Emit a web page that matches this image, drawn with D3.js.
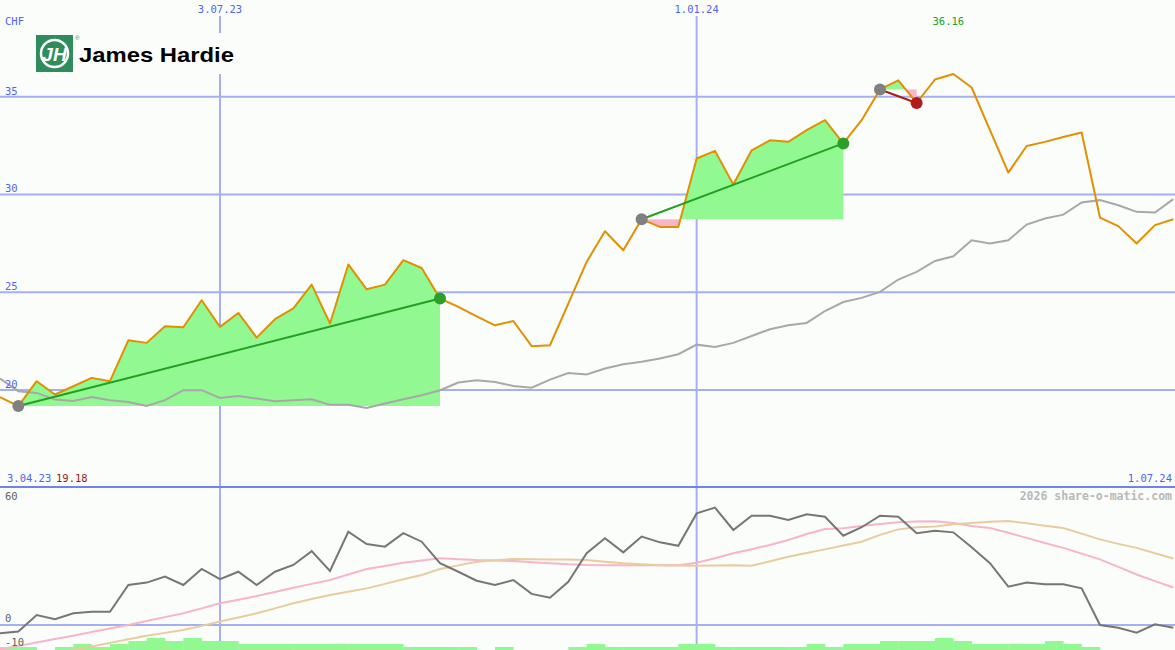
<!DOCTYPE html>
<html><head><meta charset="utf-8">
<script src="https://cdn.jsdelivr.net/npm/d3@7"></script>
<style>
html,body{margin:0;padding:0;background:#fbfdfb;}
svg{display:block;}
</style></head>
<body>
<script>
// ---------- DATA ----------
const dates = [
"2023-04-10","2023-04-17","2023-04-24","2023-05-01","2023-05-08","2023-05-15","2023-05-22","2023-05-29",
"2023-06-05","2023-06-12","2023-06-19","2023-06-26","2023-07-03","2023-07-10","2023-07-17","2023-07-24",
"2023-07-31","2023-08-07","2023-08-14","2023-08-21","2023-08-28","2023-09-04","2023-09-11","2023-09-18",
"2023-09-25","2023-10-02","2023-10-09","2023-10-16","2023-10-23","2023-10-30","2023-11-06","2023-11-13",
"2023-11-20","2023-11-27","2023-12-04","2023-12-11","2023-12-18","2023-12-25","2024-01-01","2024-01-08",
"2024-01-15","2024-01-22","2024-01-29","2024-02-05","2024-02-12","2024-02-19","2024-02-26","2024-03-04",
"2024-03-11","2024-03-18","2024-03-25","2024-04-01","2024-04-08","2024-04-15","2024-04-22","2024-04-29",
"2024-05-06","2024-05-13","2024-05-20","2024-05-27","2024-06-03","2024-06-10","2024-06-17","2024-06-24",
"2024-07-01"];

const price = [
19.64,19.18,20.45,19.77,20.19,20.62,20.45,22.54,22.41,23.26,23.21,24.59,23.23,23.94,22.68,23.62,
24.17,25.39,23.40,26.42,25.15,25.39,26.64,26.24,24.68,24.25,23.77,23.31,23.53,22.24,22.29,24.42,
26.55,28.12,27.15,28.73,28.34,28.34,31.84,32.23,30.51,32.26,32.77,32.69,33.29,33.80,32.61,33.80,
35.37,35.84,34.68,35.88,36.16,35.47,33.29,31.12,32.48,32.69,32.94,33.17,28.82,28.38,27.49,28.43,
28.73];

const priceAvg = [
20.59,19.94,19.85,19.51,19.44,19.64,19.48,19.39,19.18,19.48,19.99,19.99,19.59,19.69,19.56,19.42,
19.48,19.53,19.24,19.24,19.08,19.31,19.53,19.73,19.99,20.38,20.50,20.41,20.21,20.12,20.53,20.87,
20.79,21.10,21.32,21.44,21.61,21.83,22.32,22.20,22.41,22.76,23.11,23.31,23.43,24.04,24.50,24.71,
25.02,25.65,26.04,26.60,26.84,27.66,27.49,27.66,28.46,28.77,28.97,29.59,29.71,29.45,29.11,29.08,
29.76];

const momentum = [
-3.9,-3.1,4.7,2.7,5.5,6.2,6.2,18.8,19.9,22.7,18.8,26.3,21.5,25.0,18.8,25.0,
28.2,34.7,25.4,43.8,38.0,36.8,43.1,39.1,29.0,25.0,20.8,18.8,21.1,14.6,12.8,20.3,
33.7,40.7,34.1,41.5,38.8,37.2,52.4,55.1,44.6,51.3,51.3,49.3,52.0,50.8,41.9,45.9,
51.3,50.8,43.1,44.3,43.5,36.5,29.0,18.0,19.9,19.1,19.1,17.2,0.0,-1.3,-3.6,0.3,
-1.3];

const momentumFast = [
-11.4,-9.8,-8.2,-6.6,-5.0,-3.3,-1.6,0.0,1.9,3.7,5.5,7.8,10.2,11.9,13.6,15.5,
17.5,19.3,21.1,23.7,26.3,27.7,29.2,30.3,31.3,30.9,30.5,30.3,30.0,29.5,29.0,28.5,
28.2,28.1,28.0,28.0,28.0,28.0,29.2,31.3,33.7,35.6,37.6,39.9,42.7,45.1,45.4,46.5,
47.4,48.2,48.6,48.7,47.9,46.5,45.5,43.3,40.9,38.5,36.2,33.5,30.8,27.3,23.7,20.6,
17.6];

const momentumSlow = [
-18.8,-16.9,-15.3,-13.6,-11.7,-10.1,-8.4,-6.7,-5.0,-3.7,-2.3,-0.4,1.6,3.5,5.5,7.8,
10.2,12.2,14.1,15.6,17.2,19.3,21.5,23.5,26.3,28.0,29.7,30.4,31.0,30.9,30.8,30.7,
30.5,29.7,29.0,28.5,28.0,27.9,27.8,27.9,28.0,27.8,29.9,32.0,33.8,35.5,37.3,39.1,
42.3,44.9,45.9,46.3,47.3,47.9,48.5,48.8,47.8,46.6,45.5,42.9,40.2,38.1,36.2,33.7,
31.2];

const volume = [
1,1,0,1,2,1,2,3,4,3,4,3,3,2,2,2,
2,2,2,2,2,2,1,1,1,1,0,1,0,0,0,1,
2,1,1,1,1,2,2,1,1,1,1,1,2,1,2,2,
3,3,3,4,3,2,2,2,2,3,2,1,0,0,0,0,
0];

const trendStart = [1, 35, 48];
const trendEnd   = [24, 46, 50];

const priceTicks = [20, 25, 30, 35];
const momTicks = [60, 0, -10];
const dateTicks = ["2023-07-03", "2024-01-01"];
const dateTickLabels = ["3.07.23", "1.01.24"];
const rangeStartLabel = "3.04.23";
const rangeEndLabel = "1.07.24";
const minLabel = "19.18";
const maxLabel = "36.16";
const currency = "CHF";
const companyName = "James Hardie";
const credit = "2026 share-o-matic.com";

// ---------- SETUP ----------
const W = 1175, H = 650;
const parse = d3.timeParse("%Y-%m-%d");
const D = dates.map(parse);
const x = d3.scaleTime().domain([D[0], D[D.length - 1]]).range([0, 1173.3]);
const y = d3.scaleLinear().domain([20, 35]).range([390, 96.7]);
const y2 = d3.scaleLinear().domain([-10, 60]).range([646.3, 497.2]);
const yv = d3.scaleLinear().domain([0, 4]).range([0, 12]);

const BLUE = "#5064f0", GRID = "#a4b0f0", SEP = "#7082ee";
const mono = "'DejaVu Sans Mono', monospace";

const svg = d3.select("body").append("svg").attr("width", W).attr("height", H);
const defs = svg.append("defs");
defs.append("clipPath").attr("id", "mainClip").append("rect").attr("x", 0).attr("y", 0).attr("width", W).attr("height", 486);
defs.append("clipPath").attr("id", "lowClip").append("rect").attr("x", 0).attr("y", 489).attr("width", W).attr("height", H - 489);

svg.append("rect").attr("width", W).attr("height", H).attr("fill", "#fbfdfb");

// grid
const gridG = svg.append("g");
gridG.selectAll("line.h").data(priceTicks).join("line")
  .attr("x1", 0).attr("x2", W).attr("y1", d => y(d)).attr("y2", d => y(d))
  .attr("stroke", GRID).attr("stroke-width", 2);
gridG.append("line").attr("x1", 0).attr("x2", W).attr("y1", y2(0)).attr("y2", y2(0))
  .attr("stroke", GRID).attr("stroke-width", 2);
gridG.selectAll("line.v").data(dateTicks).join("line")
  .attr("x1", d => x(parse(d))).attr("x2", d => x(parse(d)))
  .attr("y1", 16).attr("y2", H)
  .attr("stroke", GRID).attr("stroke-width", 2);
gridG.append("line").attr("x1", 0).attr("x2", W).attr("y1", 487).attr("y2", 487)
  .attr("stroke", SEP).attr("stroke-width", 2);

// ---------- MAIN PANEL ----------
const main = svg.append("g").attr("clip-path", "url(#mainClip)");

trendStart.forEach((s, k) => {
  const e = trendEnd[k];
  const base = price[s];
  const seg = d3.range(s, e + 1);
  const area = d3.area().x(i => x(D[i])).y0(y(base)).y1(i => y(price[i]));
  const gid = "gc" + k, pid = "pc" + k;
  defs.append("clipPath").attr("id", gid).append("rect")
    .attr("x", 0).attr("y", 0).attr("width", W).attr("height", y(base));
  defs.append("clipPath").attr("id", pid).append("rect")
    .attr("x", 0).attr("y", y(base)).attr("width", W).attr("height", 486 - y(base));
  main.append("path").attr("d", area(seg)).attr("fill", "#92f892").attr("clip-path", `url(#${gid})`);
  main.append("path").attr("d", area(seg)).attr("fill", "#f8b4c8").attr("clip-path", `url(#${pid})`);
});

const line = d3.line().x((d, i) => x(D[i])).y(d => y(d));
main.append("path").attr("d", line(priceAvg)).attr("fill", "none")
  .attr("stroke", "#a8a8a8").attr("stroke-width", 2);
main.append("path").attr("d", line(price)).attr("fill", "none")
  .attr("stroke", "#e09000").attr("stroke-width", 2).attr("stroke-linejoin", "round");

trendStart.forEach((s, k) => {
  const e = trendEnd[k];
  const up = price[e] >= price[s];
  main.append("line")
    .attr("x1", x(D[s])).attr("y1", y(price[s]))
    .attr("x2", x(D[e])).attr("y2", y(price[e]))
    .attr("stroke", up ? "#22a022" : "#a81c1c").attr("stroke-width", 2);
  main.append("circle").attr("cx", x(D[s])).attr("cy", y(price[s])).attr("r", 6).attr("fill", "#808080");
  main.append("circle").attr("cx", x(D[e])).attr("cy", y(price[e])).attr("r", 6)
    .attr("fill", up ? "#2aa02a" : "#b01c1c");
});

// ---------- LOWER PANEL ----------
const low = svg.append("g").attr("clip-path", "url(#lowClip)");
low.selectAll("rect.vol").data(volume).join("rect")
  .attr("x", (d, i) => x(D[i])).attr("width", (d, i) => x(D[1]) - x(D[0]) + 0.3)
  .attr("y", d => H - yv(d)).attr("height", d => yv(d))
  .attr("fill", "#92f892");
const line2 = d3.line().x((d, i) => x(D[i])).y(d => y2(d));
low.append("path").attr("d", line2(momentumFast)).attr("fill", "none")
  .attr("stroke", "#f8b4c8").attr("stroke-width", 2);
low.append("path").attr("d", line2(momentumSlow)).attr("fill", "none")
  .attr("stroke", "#e8cc9c").attr("stroke-width", 2);
low.append("path").attr("d", line2(momentum)).attr("fill", "none")
  .attr("stroke", "#767676").attr("stroke-width", 2);

// ---------- TEXT ----------
const T = svg.append("g").attr("font-family", mono).attr("font-size", "10.5px");
T.selectAll("text.pt").data(priceTicks).join("text")
  .attr("x", 5).attr("y", d => y(d) - 2).attr("fill", BLUE).text(d => d);
T.append("text").attr("x", 5).attr("y", 25).attr("fill", BLUE).text(currency);
T.selectAll("text.dt").data(dateTicks).join("text")
  .attr("x", d => x(parse(d))).attr("y", 13).attr("text-anchor", "middle")
  .attr("fill", BLUE).text((d, i) => dateTickLabels[i]);
T.append("text").attr("x", 7).attr("y", 482).attr("fill", BLUE).text(rangeStartLabel);
T.append("text").attr("x", 56).attr("y", 482).attr("fill", "#a01818").text(minLabel);
T.append("text").attr("x", 1172).attr("y", 482).attr("text-anchor", "end").attr("fill", BLUE).text(rangeEndLabel);
T.append("text").attr("x", x(D[price.indexOf(d3.max(price))]) - 5).attr("y", 25).attr("text-anchor", "middle")
  .attr("fill", "#22a022").text(maxLabel);
T.append("text").attr("x", 1172).attr("y", 500).attr("text-anchor", "end")
  .attr("fill", "#b8b8b8").attr("font-weight", "bold").attr("font-size", "11.5px").text(credit);
T.selectAll("text.mt").data(momTicks).join("text")
  .attr("x", 5).attr("y", d => d === 60 ? 500 : y2(d) - 3 + (d === -10 ? 3 : 0))
  .attr("fill", "#606060").text(d => d);

// ---------- LOGO ----------
const logo = svg.append("g");
logo.append("rect").attr("x", 33).attr("y", 33).attr("width", 204).attr("height", 41).attr("fill", "#fbfdfb");
logo.append("rect").attr("x", 36).attr("y", 35).attr("width", 37).attr("height", 37).attr("fill", "#2f8c5c");
logo.append("circle").attr("cx", 54.5).attr("cy", 53.5).attr("r", 13.5).attr("fill", "none")
  .attr("stroke", "#ffffff").attr("stroke-width", 2.5);
logo.append("text").attr("x", 54.5).attr("y", 60.5).attr("text-anchor", "middle")
  .attr("font-family", "'Liberation Sans', Arial, sans-serif").attr("font-weight", "bold")
  .attr("font-style", "italic").attr("font-size", "19px").attr("fill", "#ffffff").text("JH");
logo.append("text").attr("x", 75).attr("y", 40).attr("font-size", "6px")
  .attr("font-family", "'Liberation Sans', Arial, sans-serif").attr("fill", "#2f8c5c").text("®");
logo.append("text").attr("x", 79).attr("y", 61.5)
  .attr("font-family", "'Liberation Sans', Arial, sans-serif").attr("font-weight", "bold")
  .attr("font-size", "21px").attr("fill", "#000000")
  .attr("textLength", 155).attr("lengthAdjust", "spacingAndGlyphs").text(companyName);
</script>
</body></html>
